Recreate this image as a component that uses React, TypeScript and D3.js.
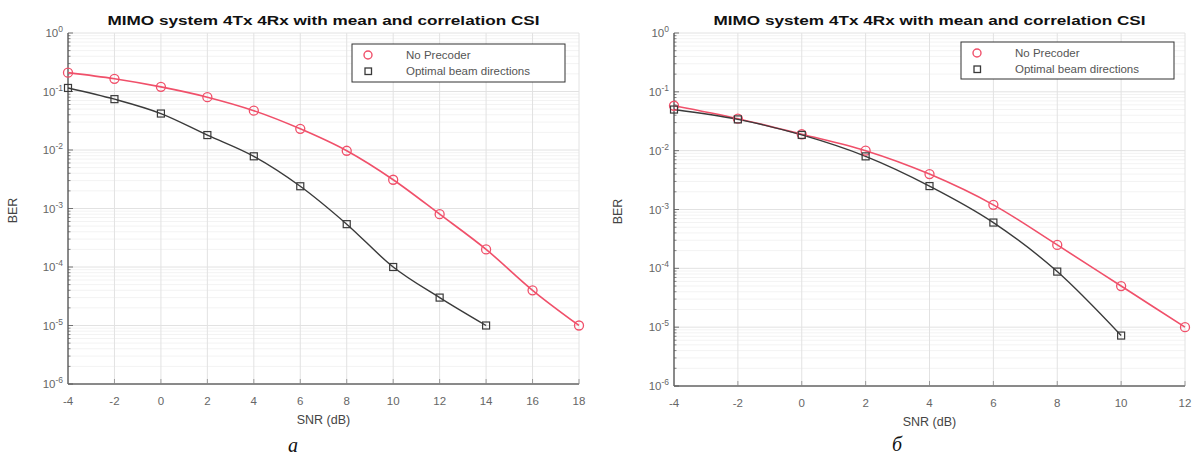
import React from "react";
import * as d3 from "d3";

const snrNoPrecA = [-4, -2, 0, 2, 4, 6, 8, 10, 12, 14, 16, 18];
const berNoPrecA = [0.21, 0.165, 0.12, 0.08, 0.047, 0.023, 0.0097, 0.0031, 0.0008, 0.0002, 0.00004, 0.00001];
const snrOptA = [-4, -2, 0, 2, 4, 6, 8, 10, 12, 14];
const berOptA = [0.115, 0.074, 0.042, 0.018, 0.0078, 0.0024, 0.00054, 0.0001, 0.00003, 0.00001];

const snrNoPrecB = [-4, -2, 0, 2, 4, 6, 8, 10, 12];
const berNoPrecB = [0.058, 0.035, 0.019, 0.01, 0.004, 0.0012, 0.00025, 0.00005, 0.00001];
const snrOptB = [-4, -2, 0, 2, 4, 6, 8, 10];
const berOptB = [0.05, 0.034, 0.0185, 0.008, 0.0025, 0.0006, 0.000088, 0.0000072];

const xTicksA = [-4, -2, 0, 2, 4, 6, 8, 10, 12, 14, 16, 18];
const xTicksB = [-4, -2, 0, 2, 4, 6, 8, 10, 12];
const yExps = [0, -1, -2, -3, -4, -5, -6];

const titleText = "MIMO system 4Tx 4Rx with mean and correlation CSI";
const legendLabels = ["No Precoder", "Optimal beam directions"];
const xLabel = "SNR (dB)";
const yLabel = "BER";

const RED = "#f0506a";
const BLACK = "#3a3a3a";
const FONT = "Liberation Sans, Arial, sans-serif";

type PanelProps = {
  x0: number; x1: number; y0: number; y1: number;
  xTicks: number[];
  redX: number[]; redY: number[];
  blkX: number[]; blkY: number[];
  legend: { x: number; y: number; w: number; h: number };
  caption: string; capX: number; capY: number;
  berX: number;
};

function Panel(p: PanelProps) {
  const xs = d3.scaleLinear().domain([p.xTicks[0], p.xTicks[p.xTicks.length - 1]]).range([p.x0, p.x1]);
  const ys = d3.scaleLog().domain([1e-6, 1]).range([p.y1, p.y0]);
  const line = d3.line<[number, number]>().x(d => xs(d[0])).y(d => ys(d[1])).curve(d3.curveMonotoneX);
  const redPts: [number, number][] = p.redX.map((x, i) => [x, p.redY[i]]);
  const blkPts: [number, number][] = p.blkX.map((x, i) => [x, p.blkY[i]]);
  const minor: number[] = [];
  for (let e = -6; e < 0; e++) for (let m = 2; m <= 9; m++) minor.push(m * Math.pow(10, e));
  const cx = (p.x0 + p.x1) / 2;
  return (
    <g fontFamily={FONT}>
      {minor.map((v, i) => (
        <line key={"mg" + i} x1={p.x0} x2={p.x1} y1={ys(v)} y2={ys(v)} stroke="#f3f3f3" strokeWidth={1} />
      ))}
      {yExps.map(e => (
        <line key={"yg" + e} x1={p.x0} x2={p.x1} y1={ys(Math.pow(10, e))} y2={ys(Math.pow(10, e))} stroke="#e2e2e2" strokeWidth={1} />
      ))}
      {p.xTicks.map(t => (
        <line key={"xg" + t} x1={xs(t)} x2={xs(t)} y1={p.y0} y2={p.y1} stroke="#e2e2e2" strokeWidth={1} />
      ))}
      <line x1={p.x0} x2={p.x0} y1={p.y0} y2={p.y1} stroke="#222" strokeWidth={1} />
      <line x1={p.x0} x2={p.x1} y1={p.y1} y2={p.y1} stroke="#222" strokeWidth={1} />
      {minor.map((v, i) => (
        <line key={"mt" + i} x1={p.x0} x2={p.x0 + 2.5} y1={ys(v)} y2={ys(v)} stroke="#555" strokeWidth={0.7} />
      ))}
      {yExps.map(e => (
        <line key={"yt" + e} x1={p.x0} x2={p.x0 + 5} y1={ys(Math.pow(10, e))} y2={ys(Math.pow(10, e))} stroke="#555" strokeWidth={0.8} />
      ))}
      {p.xTicks.map(t => (
        <line key={"xt" + t} x1={xs(t)} x2={xs(t)} y1={p.y1} y2={p.y1 - 5} stroke="#888" strokeWidth={0.8} />
      ))}
      {yExps.map(e => (
        <text key={"yl" + e} x={p.x0 - 5} y={ys(Math.pow(10, e)) + 4} textAnchor="end" fontSize={11.5} fill="#666">
          10<tspan dy={-5} fontSize={8.5}>{e}</tspan>
        </text>
      ))}
      {p.xTicks.map(t => (
        <text key={"xl" + t} x={xs(t)} y={p.y1 + 21} textAnchor="middle" fontSize={11.5} fill="#666">{t}</text>
      ))}
      <text x={cx} y={p.y1 + 40} textAnchor="middle" fontSize={12.5} fill="#444">{xLabel}</text>
      <text transform={`translate(${p.berX},${(p.y0 + p.y1) / 2 + 2}) rotate(-90)`} textAnchor="middle" fontSize={12.5} fill="#444">{yLabel}</text>
      <text x={cx} y={25} textAnchor="middle" fontSize={13.5} fontWeight="bold" fill="#111" textLength={432} lengthAdjust="spacingAndGlyphs">{titleText}</text>
      <path d={line(redPts) || ""} fill="none" stroke={RED} strokeWidth={1.6} />
      <path d={line(blkPts) || ""} fill="none" stroke={BLACK} strokeWidth={1.4} />
      {redPts.map((d, i) => (
        <circle key={"rc" + i} cx={xs(d[0])} cy={ys(d[1])} r={4.5} fill="none" stroke={RED} strokeWidth={1.3} />
      ))}
      {blkPts.map((d, i) => (
        <rect key={"bs" + i} x={xs(d[0]) - 3.5} y={ys(d[1]) - 3.5} width={7} height={7} fill="none" stroke={BLACK} strokeWidth={1.2} />
      ))}
      <rect x={p.legend.x} y={p.legend.y} width={p.legend.w} height={p.legend.h} fill="#fff" stroke="#333" strokeWidth={1} />
      <circle cx={p.legend.x + 16} cy={p.legend.y + 11} r={4} fill="none" stroke={RED} strokeWidth={1.4} />
      <rect x={p.legend.x + 13} y={p.legend.y + 24} width={6.5} height={6.5} fill="none" stroke={BLACK} strokeWidth={1.3} />
      <text x={p.legend.x + 54} y={p.legend.y + 15} fontSize={11.5} fill="#555">{legendLabels[0]}</text>
      <text x={p.legend.x + 54} y={p.legend.y + 31} fontSize={11.5} fill="#555">{legendLabels[1]}</text>
      <text x={p.capX} y={p.capY} textAnchor="middle" fontSize={20} fontStyle="italic" fontFamily="Liberation Serif, Times New Roman, serif" fill="#111">{p.caption}</text>
    </g>
  );
}

export default function App() {
  return (
    <svg width={1199} height={459} style={{ position: "absolute", left: 0, top: 0, background: "#fff" }}>
      <rect x={0} y={0} width={1199} height={459} fill="#fff" />
      <Panel x0={68} x1={579} y0={33} y1={384} xTicks={xTicksA}
        redX={snrNoPrecA} redY={berNoPrecA} blkX={snrOptA} blkY={berOptA}
        legend={{ x: 352, y: 44, w: 213, h: 38 }} caption="a" capX={293} capY={452} berX={17} />
      <Panel x0={674} x1={1185} y0={33} y1={386} xTicks={xTicksB}
        redX={snrNoPrecB} redY={berNoPrecB} blkX={snrOptB} blkY={berOptB}
        legend={{ x: 961, y: 42, w: 213, h: 37 }} caption="б" capX={897} capY={451} berX={622} />
    </svg>
  );
}
